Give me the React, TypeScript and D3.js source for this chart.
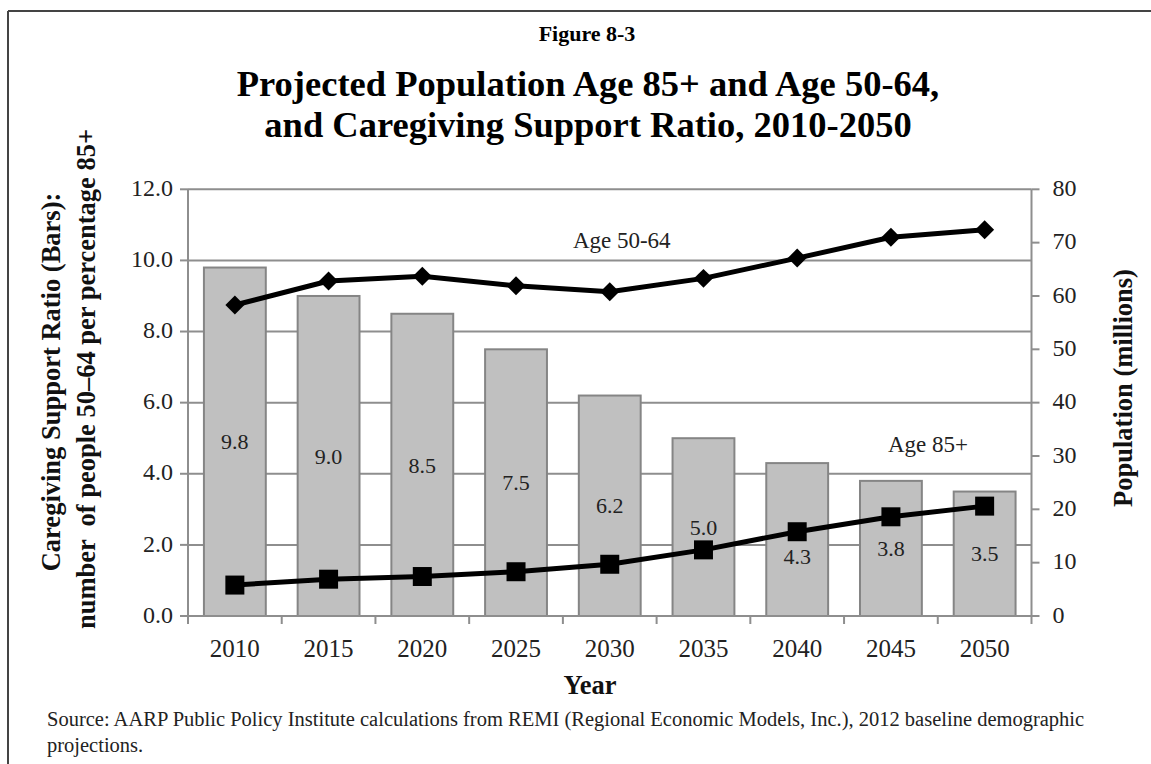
import React from "react";
import * as d3 from "d3";

// Categories and series
const years = ["2010", "2015", "2020", "2025", "2030", "2035", "2040", "2045", "2050"];
const supportRatio = [9.8, 9.0, 8.5, 7.5, 6.2, 5.0, 4.3, 3.8, 3.5];
const pop5064 = [58.3, 62.8, 63.7, 61.9, 60.8, 63.3, 67.1, 71.0, 72.4];
const pop85 = [5.8, 6.9, 7.4, 8.3, 9.7, 12.4, 15.8, 18.6, 20.6];

// Axis ticks
const leftTicks = [0, 2, 4, 6, 8, 10, 12];
const rightTicks = [0, 10, 20, 30, 40, 50, 60, 70, 80];

const W = 1151;
const H = 764;
const plot = { left: 188, right: 1031.5, top: 189.3, bottom: 616 };

const SERIF = "'Liberation Serif', 'Times New Roman', serif";
const GRID = "#8e8e8e";
const BAR_FILL = "#c0c0c0";
const BAR_STROKE = "#858585";
const TITLE_SIZE = 26.5;

export default function App() {
  const x = d3
    .scaleBand<string>()
    .domain(years)
    .range([plot.left, plot.right])
    .paddingInner(0.34)
    .paddingOuter(0.17);
  const yL = d3.scaleLinear().domain([0, 12]).range([plot.bottom, plot.top]);
  const yR = d3.scaleLinear().domain([0, 80]).range([plot.bottom, plot.top]);
  const step = x.step();
  const cx = (y: string) => (x(y) as number) + x.bandwidth() / 2;

  const line = d3
    .line<number>()
    .x((_, i) => cx(years[i]))
    .y((v) => yR(v));

  const diamond = d3.symbol(d3.symbolSquare, 180)();
  const square = d3.symbol(d3.symbolSquare, 361)();

  const boundaries = d3.range(years.length + 1).map((i) => plot.left + i * step);

  return (
    <>
      <style>{`body{margin:0}`}</style>
      <svg width={W} height={H} style={{ display: "block", background: "#fff" }}>
        {/* frame */}
        <line x1={8} y1={11} x2={W} y2={11} stroke="#444" strokeWidth={2} />
        <line x1={8} y1={11} x2={8} y2={H} stroke="#444" strokeWidth={2} />

        {/* headings */}
        <text x={587} y={41} textAnchor="middle" fontFamily={SERIF} fontWeight="bold" fontSize={22}>
          Figure 8-3
        </text>
        <text x={588} y={96} textAnchor="middle" fontFamily={SERIF} fontWeight="bold" fontSize={36.5}>
          Projected Population Age 85+ and Age 50-64,
        </text>
        <text x={588} y={137} textAnchor="middle" fontFamily={SERIF} fontWeight="bold" fontSize={36.5}>
          and Caregiving Support Ratio, 2010-2050
        </text>

        {/* horizontal gridlines */}
        {leftTicks.slice(1).map((t) => (
          <line key={"g" + t} x1={plot.left} x2={plot.right} y1={yL(t)} y2={yL(t)} stroke={GRID} strokeWidth={2} />
        ))}

        {/* bars */}
        {supportRatio.map((v, i) => (
          <rect
            key={"b" + i}
            x={x(years[i])}
            y={yL(v)}
            width={x.bandwidth()}
            height={plot.bottom - yL(v)}
            fill={BAR_FILL}
            stroke={BAR_STROKE}
            strokeWidth={2}
          />
        ))}

        {/* left axis */}
        <line x1={plot.left} x2={plot.left} y1={plot.top} y2={plot.bottom} stroke={GRID} strokeWidth={2} />
        {leftTicks.map((t) => (
          <g key={"l" + t}>
            <line x1={plot.left - 8} x2={plot.left} y1={yL(t)} y2={yL(t)} stroke={GRID} strokeWidth={2} />
            <text x={plot.left - 15} y={yL(t)} dy="0.28em" textAnchor="end" fontFamily={SERIF} fontSize={24} fill="#222">
              {t.toFixed(1)}
            </text>
          </g>
        ))}

        {/* right axis */}
        <line x1={plot.right} x2={plot.right} y1={plot.top} y2={plot.bottom} stroke={GRID} strokeWidth={2} />
        {rightTicks.map((t) => (
          <g key={"r" + t}>
            <line x1={plot.right} x2={plot.right + 8} y1={yR(t)} y2={yR(t)} stroke={GRID} strokeWidth={2} />
            <text x={plot.right + 21} y={yR(t)} dy="0.28em" textAnchor="start" fontFamily={SERIF} fontSize={24} fill="#222">
              {t}
            </text>
          </g>
        ))}

        {/* bottom axis */}
        <line x1={plot.left} x2={plot.right} y1={plot.bottom} y2={plot.bottom} stroke={GRID} strokeWidth={2} />
        {boundaries.map((b, i) => (
          <line key={"t" + i} x1={b} x2={b} y1={plot.bottom} y2={plot.bottom + 8} stroke={GRID} strokeWidth={2} />
        ))}
        {years.map((yr) => (
          <text key={"x" + yr} x={cx(yr)} y={657} textAnchor="middle" fontFamily={SERIF} fontSize={25} fill="#222">
            {yr}
          </text>
        ))}

        {/* bar value labels */}
        {supportRatio.map((v, i) => {
          const mid = (yL(v) + plot.bottom) / 2;
          const ly = yR(pop85[i]);
          const pos = Math.abs(mid - ly) < 14 ? ly + 25 : mid;
          return (
            <text key={"v" + i} x={cx(years[i])} y={pos} dy="0.35em" textAnchor="middle" fontFamily={SERIF} fontSize={22} fill="#222">
              {v.toFixed(1)}
            </text>
          );
        })}

        {/* population lines */}
        <path d={line(pop5064) || ""} fill="none" stroke="#000" strokeWidth={5} strokeLinejoin="round" />
        <path d={line(pop85) || ""} fill="none" stroke="#000" strokeWidth={5} strokeLinejoin="round" />
        {pop5064.map((v, i) => (
          <path key={"d" + i} d={diamond || ""} transform={`translate(${cx(years[i])},${yR(v)}) rotate(45)`} fill="#000" />
        ))}
        {pop85.map((v, i) => (
          <path key={"s" + i} d={square || ""} transform={`translate(${cx(years[i])},${yR(v)})`} fill="#000" />
        ))}

        {/* series annotations */}
        <text x={cx("2030") + 12} y={yR(69)} textAnchor="middle" fontFamily={SERIF} fontSize={23} fill="#222">
          Age 50-64
        </text>
        <text x={cx("2045") + 37} y={yR(30.7)} textAnchor="middle" fontFamily={SERIF} fontSize={23} fill="#222">
          Age 85+
        </text>

        {/* axis titles */}
        <text
          transform={`translate(60,382) rotate(-90)`}
          textAnchor="middle"
          fontFamily={SERIF}
          fontWeight="bold"
          fontSize={TITLE_SIZE}
          fill="#111"
        >
          Caregiving Support Ratio (Bars):
        </text>
        <text
          transform={`translate(95,379) rotate(-90)`}
          textAnchor="middle"
          fontFamily={SERIF}
          fontWeight="bold"
          fontSize={TITLE_SIZE}
          fill="#111"
          style={{ whiteSpace: "pre" }}
        >
          {"number  of people 50\u201364 per percentage 85+"}
        </text>
        <text
          transform={`translate(1132,388) rotate(-90)`}
          textAnchor="middle"
          fontFamily={SERIF}
          fontWeight="bold"
          fontSize={TITLE_SIZE}
          fill="#111"
        >
          Population (millions)
        </text>
        <text x={590} y={694} textAnchor="middle" fontFamily={SERIF} fontWeight="bold" fontSize={TITLE_SIZE} fill="#111">
          Year
        </text>

        {/* source note */}
        <text x={47} y={726} fontFamily={SERIF} fontSize={20.5} fill="#222">
          Source: AARP Public Policy Institute calculations from REMI (Regional Economic Models, Inc.), 2012 baseline demographic
        </text>
        <text x={47} y={752} fontFamily={SERIF} fontSize={20.5} fill="#222">
          projections.
        </text>
      </svg>
    </>
  );
}
